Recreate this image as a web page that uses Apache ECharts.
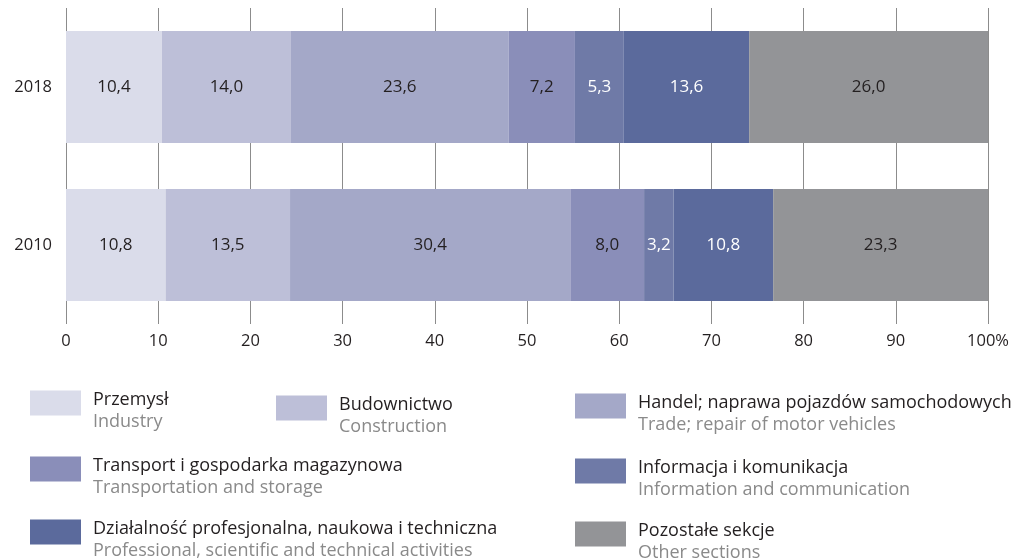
<!DOCTYPE html>
<html>
<head>
<meta charset="utf-8">
<script src="https://cdn.jsdelivr.net/npm/echarts@6/dist/echarts.min.js"></script>
<style>
  html, body { margin: 0; padding: 0; background: #ffffff; }
  #chart { width: 1019px; height: 558px; }
</style>
</head>
<body>
<div id="chart"></div>
<script>
const years = ['2018', '2010'];
const xTicks = [0, 10, 20, 30, 40, 50, 60, 70, 80, 90, 100];

const sectionsPl = [
  'Przemysł',
  'Budownictwo',
  'Handel; naprawa pojazdów samochodowych',
  'Transport i gospodarka magazynowa',
  'Informacja i komunikacja',
  'Działalność profesjonalna, naukowa i techniczna',
  'Pozostałe sekcje'
];
const sectionsEn = [
  'Industry',
  'Construction',
  'Trade; repair of motor vehicles',
  'Transportation and storage',
  'Information and communication',
  'Professional, scientific and technical activities',
  'Other sections'
];

// shares per section, [2018, 2010]
const industry = [10.4, 10.8];
const construction = [14.0, 13.5];
const trade = [23.6, 30.4];
const transport = [7.2, 8.0];
const information = [5.3, 3.2];
const professional = [13.6, 10.8];
const other = [26.0, 23.3];

const values = [industry, construction, trade, transport, information, professional, other];
const colors = ['#dadcea', '#bdbfd8', '#a4a8c8', '#8a8eb9', '#6f7aa7', '#5b6a9c', '#939497'];
const labelColors = ['#231f20', '#231f20', '#231f20', '#231f20', '#ffffff', '#ffffff', '#231f20'];

// legend swatch positions (left, top of the coloured box)
const legendPos = [
  [30, 390], [276, 395], [575, 393],
  [30, 456], [575, 458],
  [30, 519], [575, 521]
];

const fontFamily = 'Open Sans';
const chart = echarts.init(document.getElementById('chart'));

const series = sectionsPl.map((name, i) => ({
  name: name,
  type: 'bar',
  stack: 'total',
  barCategoryGap: '29%',
  data: values[i],
  itemStyle: { color: colors[i] },
  label: {
    show: true,
    position: 'inside',
    color: labelColors[i],
    fontFamily: fontFamily,
    fontSize: 17,
    formatter: p => p.value.toFixed(1).replace('.', ',')
  },
  emphasis: { disabled: true }
}));

// an empty spacer line on top pushes the text down so the swatch lines up with the first line
const legends = sectionsPl.map((name, i) => ({
  data: [name],
  left: legendPos[i][0],
  top: legendPos[i][1] - 10,
  orient: 'vertical',
  icon: 'rect',
  itemWidth: 51,
  itemHeight: 25,
  itemGap: 0,
  padding: 0,
  selectedMode: false,
  formatter: n => '{gap| }\n{pl|' + n + '}\n{en|' + sectionsEn[i] + '}',
  textStyle: {
    fontFamily: fontFamily,
    rich: {
      gap: { fontSize: 2, lineHeight: 15 },
      pl: { fontSize: 18, color: '#231f20', lineHeight: 22, fontFamily: fontFamily, padding: [0, 0, 0, 7] },
      en: { fontSize: 18, color: '#8a8a8a', lineHeight: 22, fontFamily: fontFamily, padding: [0, 0, 0, 7] }
    }
  }
}));

const option = {
  animation: false,
  legend: legends,
  grid: {
    left: 66,
    right: 31,
    top: 8,
    height: 316
  },
  xAxis: {
    type: 'value',
    min: xTicks[0],
    max: xTicks[xTicks.length - 1],
    interval: 10,
    axisLine: { show: false },
    axisTick: { show: false },
    axisLabel: {
      margin: 9,
      color: '#231f20',
      fontFamily: fontFamily,
      fontSize: 16.5,
      formatter: v => (v === 100 ? '100%' : String(v))
    },
    splitLine: { show: true, lineStyle: { color: '#8c8c8c', width: 1 } }
  },
  yAxis: {
    type: 'category',
    data: years,
    inverse: true,
    axisLine: { show: false },
    axisTick: { show: false },
    axisLabel: {
      margin: 14,
      color: '#231f20',
      fontFamily: fontFamily,
      fontSize: 16.5
    }
  },
  series: series
};

chart.setOption(option);
</script>
</body>
</html>
